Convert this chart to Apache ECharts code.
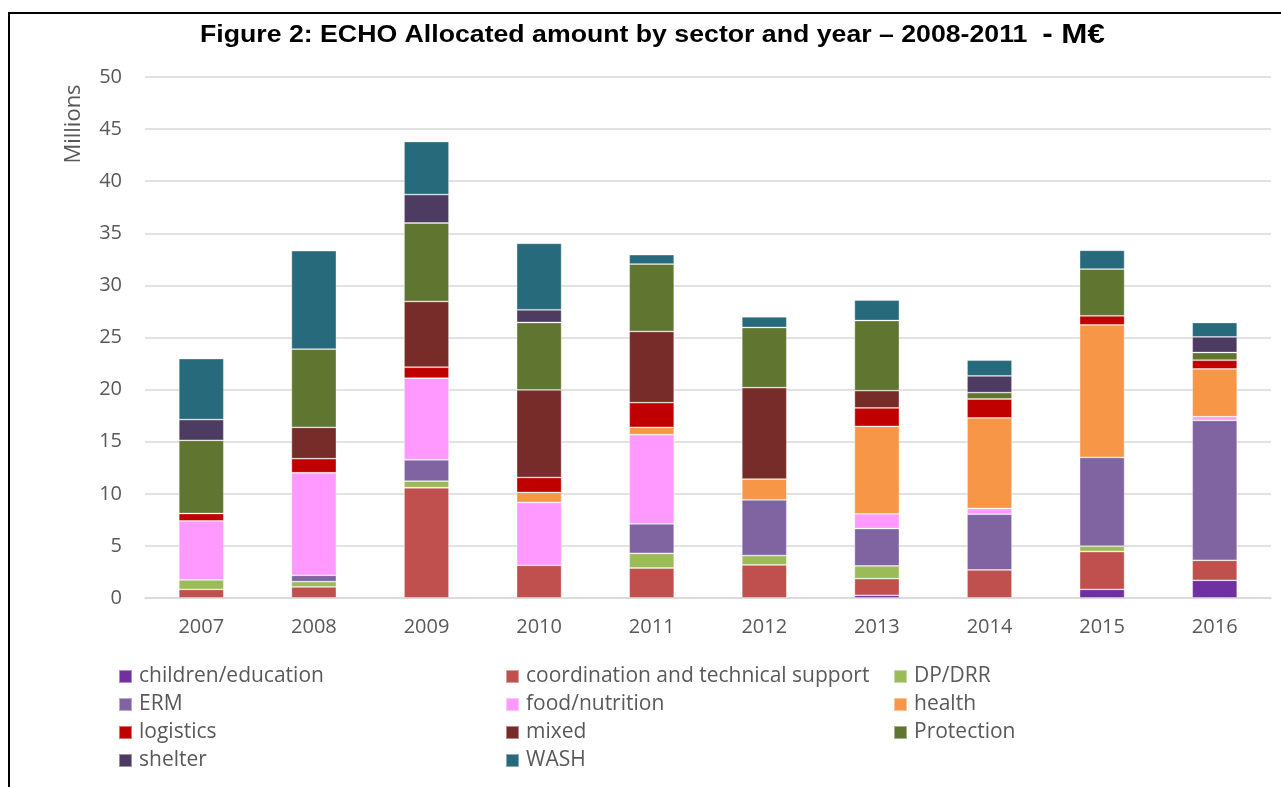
<!DOCTYPE html>
<html>
<head>
<meta charset="utf-8">
<script src="https://cdn.jsdelivr.net/npm/echarts@6/dist/echarts.min.js"></script>
<style>
  html, body { margin: 0; padding: 0; background: #ffffff; }
  #chart { width: 1281px; height: 787px; }
</style>
</head>
<body>
<div id="chart"></div>
<script>
// Allocated amounts per sector, in millions of euros
const years = ['2007', '2008', '2009', '2010', '2011', '2012', '2013', '2014', '2015', '2016'];
const yTicks = [0, 5, 10, 15, 20, 25, 30, 35, 40, 45, 50];

const childrenEducation = [0, 0, 0, 0, 0, 0, 0.26, 0, 0.83, 1.70];
const coordination      = [0.83, 1.06, 10.58, 3.14, 2.88, 3.17, 1.60, 2.69, 3.63, 1.92];
const dpDrr             = [0.90, 0.51, 0.64, 0, 1.41, 0.90, 1.22, 0, 0.51, 0];
const erm               = [0, 0.61, 2.05, 0, 2.83, 5.35, 3.59, 5.35, 8.52, 13.43];
const foodNutrition     = [5.67, 9.84, 7.82, 6.03, 8.55, 0, 1.41, 0.55, 0, 0.35];
const health            = [0, 0, 0, 0.96, 0.71, 1.99, 8.39, 8.69, 12.73, 4.59];
const logistics         = [0.71, 1.35, 1.06, 1.44, 2.37, 0, 1.77, 1.82, 0.86, 0.83];
const mixed             = [0, 3.01, 6.31, 8.40, 6.83, 8.78, 1.66, 0, 0, 0];
const protection        = [7.02, 7.50, 7.53, 6.47, 6.47, 5.77, 6.73, 0.61, 4.49, 0.74];
const shelter           = [1.99, 0, 2.73, 1.22, 0, 0, 0, 1.60, 0, 1.50];
const wash              = [5.86, 9.45, 5.09, 6.38, 0.90, 1.03, 1.96, 1.51, 1.80, 1.38];

const sectors = [
  { name: 'children/education', data: childrenEducation, color: '#7030A0' },
  { name: 'coordination and technical support', data: coordination, color: '#C0504D' },
  { name: 'DP/DRR', data: dpDrr, color: '#9BBB59' },
  { name: 'ERM', data: erm, color: '#8064A2' },
  { name: 'food/nutrition', data: foodNutrition, color: '#FF99FF' },
  { name: 'health', data: health, color: '#F79646' },
  { name: 'logistics', data: logistics, color: '#C00000' },
  { name: 'mixed', data: mixed, color: '#772C2A' },
  { name: 'Protection', data: protection, color: '#5F7530' },
  { name: 'shelter', data: shelter, color: '#4D3B62' },
  { name: 'WASH', data: wash, color: '#276A7C' }
];

const textGrey = '#595959';
const gridGrey = '#D9D9D9';
const bodyFont = '"Open Sans", Lato, sans-serif';
const titleFont = '"Liberation Sans", Arial, sans-serif';

function legendColumn(names, left) {
  return {
    orient: 'vertical',
    left: left,
    top: 661,
    itemWidth: 13,
    itemHeight: 13,
    itemGap: 7,
    icon: 'rect',
    data: names,
    textStyle: { color: textGrey, fontSize: 21, fontFamily: bodyFont, lineHeight: 21, padding: [0, 0, 0, 2] }
  };
}

const chart = echarts.init(document.getElementById('chart'), null, { renderer: 'canvas' });

chart.setOption({
  backgroundColor: '#ffffff',
  animation: false,
  legend: [
    legendColumn(['children/education', 'ERM', 'logistics', 'shelter'], 113),
    legendColumn(['coordination and technical support', 'food/nutrition', 'mixed', 'WASH'], 500),
    legendColumn(['DP/DRR', 'health', 'Protection'], 888)
  ],
  grid: { left: 145, right: 10, top: 77, bottom: 189, containLabel: false },
  xAxis: {
    type: 'category',
    data: years,
    axisLine: { show: true, lineStyle: { color: gridGrey, width: 1.5 } },
    axisTick: { show: false },
    axisLabel: { color: textGrey, fontSize: 20, fontFamily: bodyFont, margin: 19 }
  },
  yAxis: {
    type: 'value',
    min: yTicks[0],
    max: yTicks[yTicks.length - 1],
    interval: yTicks[1] - yTicks[0],
    axisLine: { show: false },
    axisTick: { show: false },
    splitLine: { lineStyle: { color: gridGrey, width: 1.5 } },
    axisLabel: { color: textGrey, fontSize: 20, fontFamily: bodyFont, margin: 23 }
  },
  series: sectors.map(s => ({
    name: s.name,
    type: 'bar',
    stack: 'total',
    barWidth: 45,
    itemStyle: { color: s.color, borderColor: 'rgba(255,255,255,0.45)', borderWidth: 0.8 },
    data: s.data.map(v => (v === 0 ? null : v))
  })),
  graphic: [
    {
      // chart title, drawn slightly widened
      type: 'text',
      x: 200,
      y: 36,
      scaleX: 1.16,
      style: {
        text: '{a|Figure 2: ECHO Allocated amount by sector and year \u2013 2008-2011  }{b|- M\u20AC}',
        rich: {
          a: { fontFamily: titleFont, fontWeight: 'bold', fontSize: 23, fill: '#000000' },
          b: { fontFamily: titleFont, fontWeight: 'bold', fontSize: 27, fill: '#000000' }
        },
        textAlign: 'left',
        textVerticalAlign: 'middle'
      }
    },
    {
      type: 'text',
      x: 74,
      y: 124,
      rotation: Math.PI / 2,
      style: {
        text: 'Millions',
        fill: textGrey,
        fontSize: 22,
        fontFamily: bodyFont,
        textAlign: 'center',
        textVerticalAlign: 'middle'
      }
    },
    {
      type: 'polyline',
      shape: { points: [[9, 787], [9, 13], [1281, 13]] },
      style: { stroke: '#000000', lineWidth: 2, fill: null }
    }
  ]
});
</script>
</body>
</html>
